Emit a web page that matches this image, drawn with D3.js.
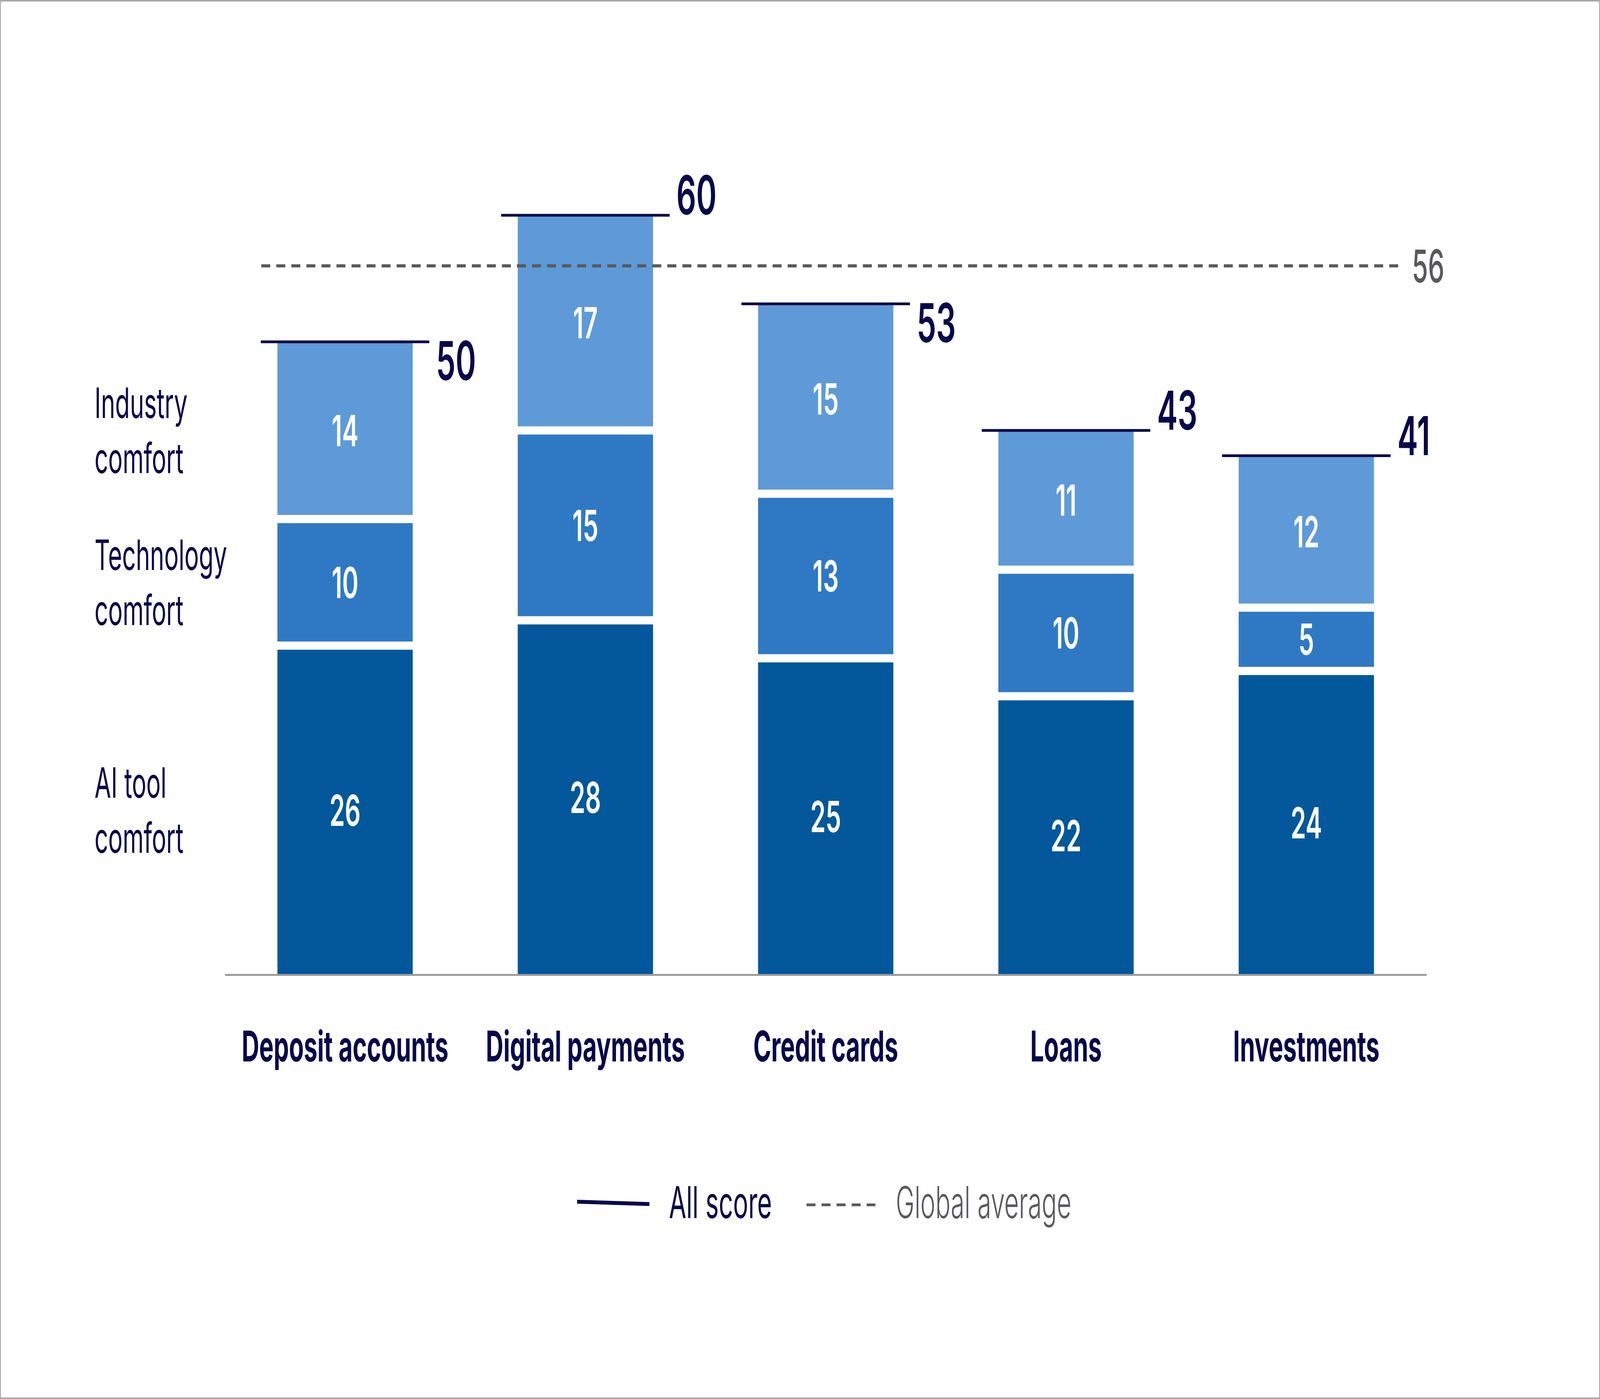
<!DOCTYPE html>
<html>
<head>
<meta charset="utf-8">
<script src="https://cdn.jsdelivr.net/npm/d3@7"></script>
<style>
  html, body { margin: 0; padding: 0; background: #fff; overflow: hidden; }
  svg { display: block; font-family: Inter, "Noto Sans", sans-serif; }
</style>
</head>
<body>
<svg id="chart"></svg>
<script>
// ---- data ----
const categories = ["Deposit accounts", "Digital payments", "Credit cards", "Loans", "Investments"];
const aiToolComfort = [26, 28, 25, 22, 24];
const technologyComfort = [10, 15, 13, 10, 5];
const industryComfort = [14, 17, 15, 11, 12];
const allScore = [50, 60, 53, 43, 41];
const globalAverage = 56;
const seriesKeys = ["ai", "tech", "industry"];
const seriesLabels = [["AI tool", "comfort"], ["Technology", "comfort"], ["Industry", "comfort"]];
const totalLabelSide = ["below", "above", "below", "above", "above"];
const legendLabels = ["All score", "Global average"];

// ---- styles ----
const W = 7128, H = 3581;
const colors = { ai: "#03589b", tech: "#2f79c4", industry: "#5f9ad8" };
const navy = "#07074a";
const gray = "#58595d";

const vw = window.innerWidth || W, vh = window.innerHeight || H;
const svg = d3.select("#chart").attr("width", vw).attr("height", vh)
  .attr("viewBox", `0 0 ${W} ${H}`).attr("preserveAspectRatio", "none");
svg.append("rect").attr("x", 0).attr("y", 0).attr("width", W).attr("height", H).attr("fill", "#fff");
svg.append("rect").attr("x", 2).attr("y", 2).attr("width", W - 4).attr("height", H - 4)
  .attr("fill", "none").attr("stroke", "#a9a9a9").attr("stroke-width", 4);

const rows = categories.map((c, i) => ({ category: c, ai: aiToolComfort[i], tech: technologyComfort[i], industry: industryComfort[i], total: allScore[i], side: totalLabelSide[i] }));

const x = d3.scaleBand().domain(categories).range([1002, 6355]).paddingInner(0.437).paddingOuter(0.2185);
const y = d3.scaleLinear().domain([0, 60]).range([2495, 551]);

const stack = d3.stack().keys(seriesKeys)(rows);
const gap = 21;

// bars
const layers = svg.append("g").selectAll("g").data(stack).join("g").attr("fill", d => colors[d.key]);
layers.each(function (layer, li) {
  const isTop = li === stack.length - 1, isBottom = li === 0;
  d3.select(this).selectAll("rect").data(layer).join("rect")
    .attr("x", d => x(d.data.category))
    .attr("width", x.bandwidth())
    .attr("y", d => y(d[1]) + (isTop ? 0 : gap / 2))
    .attr("height", d => (y(d[0]) - (isBottom ? 0 : gap / 2)) - (y(d[1]) + (isTop ? 0 : gap / 2)));
  d3.select(this).selectAll("text").data(layer).join("text")
    .attr("x", d => x(d.data.category) + x.bandwidth() / 2)
    .attr("y", d => (y(d[0]) + y(d[1])) / 2 + 40)
    .attr("text-anchor", "middle")
    .attr("fill", "#fff")
    .attr("font-size", 110)
    .attr("font-weight", 600)
    .text(d => d[1] - d[0]);
});

// axis
const axis = svg.append("g").attr("transform", `translate(0,${y(0)})`)
  .call(d3.axisBottom(x).tickSize(0).tickSizeOuter(0));
axis.select(".domain").attr("stroke", "#9b9b9b").attr("stroke-width", 5);
axis.selectAll(".tick text")
  .attr("y", 222).attr("dy", 0)
  .attr("fill", navy)
  .attr("font-size", 108)
  .attr("font-weight", 700)
  .attr("font-family", "Inter, 'Noto Sans', sans-serif");

// global average line
svg.append("line")
  .attr("x1", 1164).attr("x2", 6229)
  .attr("y1", y(globalAverage)).attr("y2", y(globalAverage))
  .attr("stroke", gray).attr("stroke-width", 8).attr("stroke-dasharray", "40,27");
svg.append("text")
  .attr("x", 6290).attr("y", y(globalAverage) + 42)
  .attr("fill", gray).attr("font-size", 116).attr("font-weight", 500)
  .text(globalAverage);

// total lines
const ext = 74;
svg.append("g").selectAll("line").data(rows).join("line")
  .attr("x1", d => x(d.category) - ext)
  .attr("x2", d => x(d.category) + x.bandwidth() + ext)
  .attr("y1", d => y(d.total)).attr("y2", d => y(d.total))
  .attr("stroke", navy).attr("stroke-width", 7);
svg.append("g").selectAll("text").data(rows).join("text")
  .attr("x", d => x(d.category) + x.bandwidth() + ext + 30)
  .attr("y", d => y(d.total) + (d.side === "below" ? 98 : -2))
  .attr("fill", navy).attr("font-size", 138).attr("font-weight", 600)
  .text(d => d.total);

// series labels at left, aligned to first bar segments
const lab = svg.append("g");
stack.forEach((layer, li) => {
  const d = layer[0];
  const mid = (y(d[0]) + y(d[1])) / 2;
  const t = lab.append("text").attr("x", 421).attr("fill", navy).attr("font-size", 107).attr("font-weight", 400);
  t.append("tspan").attr("x", 421).attr("y", mid - 32).text(seriesLabels[li][0]);
  t.append("tspan").attr("x", 421).attr("y", mid + 109).text(seriesLabels[li][1]);
});

// legend
const lg = svg.append("g");
lg.append("line").attr("x1", 2571).attr("x2", 2893).attr("y1", 3076).attr("y2", 3082)
  .attr("stroke", navy).attr("stroke-width", 10);
lg.append("text").attr("x", 2980).attr("y", 3118).attr("fill", navy)
  .attr("font-size", 112).attr("font-weight", 400).text(legendLabels[0]);
lg.append("line").attr("x1", 3593).attr("x2", 3900).attr("y1", 3084).attr("y2", 3084)
  .attr("stroke", gray).attr("stroke-width", 7).attr("stroke-dasharray", "40,27");
lg.append("text").attr("x", 3991).attr("y", 3118).attr("fill", gray)
  .attr("font-size", 112).attr("font-weight", 300).text(legendLabels[1]);
</script>
</body>
</html>
